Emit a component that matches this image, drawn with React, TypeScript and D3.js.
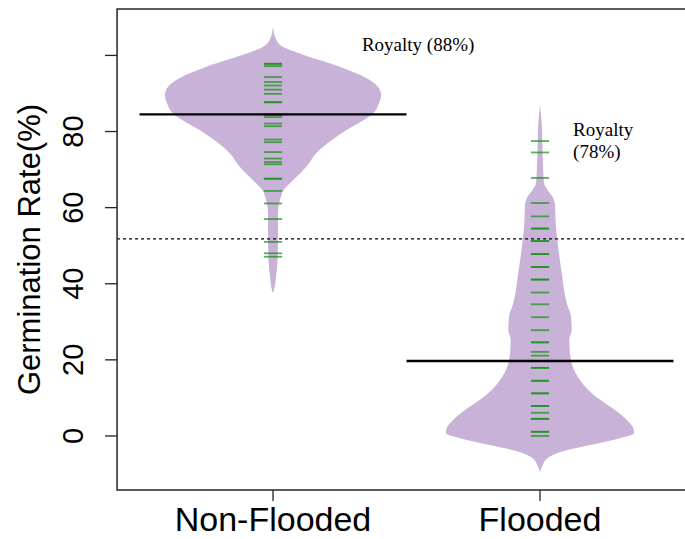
import React from "react";
import * as d3 from "d3";

const categories = ["Non-Flooded", "Flooded"];
const yTicks = [0, 20, 40, 60, 80, 100];
const yTickLabels = ["0", "20", "40", "60", "80", ""];

// individual observations (bean lines); repeated values overlap and look darker
const nonFloodedObs = [
  97.8, 97.8, 97.2, 94.3, 93.0, 92.1, 91.0, 89.9, 87.7, 87.7, 84.4, 84.4, 83.8,
  82.1, 81.4, 77.9, 77.2, 74.6, 72.9, 72.0, 71.4, 67.6, 67.6, 64.4, 61.1, 57.0,
  51.0, 48.0, 47.1,
];
const floodedObs = [
  77.5, 74.5, 67.8, 61.2, 57.7, 54.5, 54.5, 51.2, 51.2, 47.8, 47.8, 44.4, 44.4,
  41.1, 41.1, 37.7, 34.6, 31.2, 27.8, 24.6, 24.6, 22.1, 21.1, 17.9, 17.9, 14.5,
  14.5, 11.2, 11.2, 7.9, 7.9, 6.1, 4.5, 4.5, 1.1, 1.1, 0.0,
];

// bean density outline (relative density at germination-rate levels)
const nonFloodedDensityY = [
  107.6, 104.1, 102.3, 100.6, 98.8, 97.1, 95.3, 93.6, 91.8, 89.6, 87.4, 85.2,
  83.0, 80.4, 77.7, 74.3, 70.8, 67.3, 64.7, 62.0, 58.5, 52.4, 46.3, 41.9, 38.4,
  37.5,
];
const nonFloodedDensity = [
  0.0, 0.03, 0.09, 0.24, 0.43, 0.61, 0.77, 0.89, 0.97, 1.0, 0.98, 0.94, 0.84,
  0.68, 0.54, 0.4, 0.31, 0.19, 0.1, 0.065, 0.046, 0.046, 0.042, 0.028, 0.01, 0.0,
];
const floodedDensityY = [
  87.0, 82.2, 73.4, 66.4, 64.7, 62.9, 60.7, 55.9, 51.5, 47.1, 41.9, 38.4, 34.9,
  31.4, 27.9, 25.2, 21.7, 18.2, 14.7, 12.1, 9.5, 6.8, 4.2, 2.0, 0.7, -0.6, -2.4,
  -4.1, -5.9, -8.1, -9.5,
];
const floodedDensity = [
  0.0, 0.016, 0.025, 0.037, 0.068, 0.114, 0.139, 0.145, 0.16, 0.179, 0.206,
  0.222, 0.247, 0.287, 0.293, 0.271, 0.278, 0.303, 0.37, 0.447, 0.556, 0.694,
  0.803, 0.864, 0.87, 0.74, 0.463, 0.204, 0.065, 0.019, 0.0,
];

const groupMeans = [84.5, 19.7];
const overallMean = 51.8;

const annotation1 = ["Royalty (88%)"];
const annotation2 = ["Royalty", "(78%)"];

const W = 685;
const H = 539;

export default function App() {
  const x = d3.scaleLinear().domain([1, 2]).range([273, 540]);
  const y = d3.scaleLinear().domain([-14.2, 112.2]).range([490, 9]);

  const left = x(0.416);
  const right = x(2.584);
  const top = y(112.2);
  const bottom = y(-14.2);

  const beanHalf = 0.405;
  const lineHalf = 0.034;
  const meanHalf = 0.5;

  const beans = [
    { ys: nonFloodedDensityY, ds: nonFloodedDensity, obs: nonFloodedObs },
    { ys: floodedDensityY, ds: floodedDensity, obs: floodedObs },
  ];

  const makeArea = (c: number) =>
    d3
      .area<[number, number]>()
      .y((d) => y(d[0]))
      .x0((d) => x(c - d[1] * beanHalf))
      .x1((d) => x(c + d[1] * beanHalf))
      .curve(d3.curveMonotoneY);

  return (
    <svg
      width={W}
      height={H}
      style={{ position: "absolute", left: 0, top: 0, background: "#fff" }}
    >
      {/* beans */}
      {beans.map((b, i) => {
        const c = i + 1;
        const pts: [number, number][] = b.ys.map((v, k) => [v, b.ds[k]]);
        return (
          <path key={"bean" + i} d={makeArea(c)(pts) || ""} fill="#C9B2D8" stroke="none" />
        );
      })}
      {/* bean lines */}
      {beans.map((b, i) => {
        const c = i + 1;
        return (
          <g key={"obs" + i}>
            {b.obs.map((v, k) => (
              <line
                key={k}
                x1={x(c - lineHalf)}
                x2={x(c + lineHalf)}
                y1={y(v)}
                y2={y(v)}
                stroke="#0f920f"
                strokeOpacity={0.7}
                strokeWidth={1.8}
              />
            ))}
          </g>
        );
      })}
      {/* overall mean dotted line */}
      <line
        x1={left}
        x2={right}
        y1={y(overallMean)}
        y2={y(overallMean)}
        stroke="#000"
        strokeWidth={1.2}
        strokeDasharray="3,3"
      />
      {/* group means */}
      {groupMeans.map((m, i) => (
        <line
          key={"m" + i}
          x1={x(i + 1 - meanHalf)}
          x2={x(i + 1 + meanHalf)}
          y1={y(m)}
          y2={y(m)}
          stroke="#000"
          strokeWidth={2.4}
        />
      ))}
      {/* frame */}
      <rect
        x={left}
        y={top}
        width={right - left}
        height={bottom - top}
        fill="none"
        stroke="#333"
        strokeWidth={1.6}
      />
      {/* y axis */}
      {yTicks.map((t, i) => (
        <g key={"yt" + i}>
          <line x1={left - 12} x2={left} y1={y(t)} y2={y(t)} stroke="#222" strokeWidth={1.3} />
          <text
            transform={`translate(${83},${y(t)}) rotate(-90)`}
            textAnchor="middle"
            fontFamily="'Liberation Sans', Arial, sans-serif"
            fontSize={29}
            fill="#000"
          >
            {yTickLabels[i]}
          </text>
        </g>
      ))}
      <text
        transform={`translate(${40},${(top + bottom) / 2}) rotate(-90)`}
        textAnchor="middle"
        fontFamily="'Liberation Sans', Arial, sans-serif"
        fontSize={31}
        fill="#000"
      >
        Germination Rate(%)
      </text>
      {/* x axis */}
      {categories.map((c, i) => (
        <g key={"xt" + i}>
          <line x1={x(i + 1)} x2={x(i + 1)} y1={bottom} y2={bottom + 11} stroke="#222" strokeWidth={1.3} />
          <text
            x={x(i + 1)}
            y={531}
            textAnchor="middle"
            fontFamily="'Liberation Sans', Arial, sans-serif"
            fontSize={34}
            fill="#000"
          >
            {c}
          </text>
        </g>
      ))}
      {/* annotations */}
      <text
        x={x(1.333)}
        y={y(101.2)}
        fontFamily="'Liberation Serif', 'Times New Roman', serif"
        fontSize={19}
        fill="#000"
      >
        {annotation1[0]}
      </text>
      {annotation2.map((s, i) => (
        <text
          key={"a2" + i}
          x={x(2.124)}
          y={y(78.7 - i * 5.6)}
          fontFamily="'Liberation Serif', 'Times New Roman', serif"
          fontSize={19}
          fill="#000"
        >
          {s}
        </text>
      ))}
    </svg>
  );
}
